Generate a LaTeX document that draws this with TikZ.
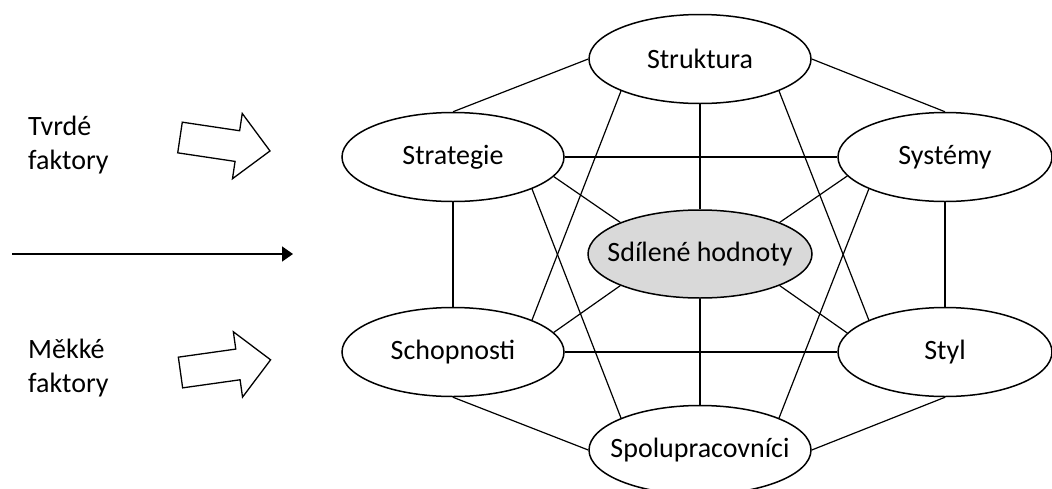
\documentclass[tikz,border=0pt]{standalone}
\usepackage{fontspec}
\setmainfont{Carlito}
\usetikzlibrary{shapes.geometric,arrows.meta}

% label of an element: zero-width box so the ellipse keeps its set size
\newcommand\elname[1]{\makebox[0pt]{#1}}

\definecolor{corefill}{HTML}{D9D9D9}
\tikzset{
  factor/.style={ellipse, draw=black, line width=1.5pt, fill=white,
    minimum width=222pt, minimum height=89pt, inner sep=0pt,
    font=\fontsize{28}{34}\selectfont},
  sidefactor/.style={factor, minimum width=214pt},
  corefactor/.style={factor, fill=corefill, minimum width=224pt, minimum height=88pt},
  link/.style={draw=black, line width=1.2pt},
  sidelabel/.style={anchor=base west, align=left, inner sep=0pt,
    font=\fontsize{28}{34}\selectfont},
  fatarrow/.pic={
    \draw[line width=1.3pt, line join=miter, fill=white]
      (0,-15.5) -- (58,-15.5) -- (58,-33) -- (91,0) -- (58,33)
      -- (58,15.5) -- (0,15.5) -- cycle;
  }
}

\begin{document}
\begin{tikzpicture}[x=1pt, y=-1pt]
  \clip (0,0) rectangle (1052,488);
  \fill[white] (0,0) rectangle (1052,488);

  % the seven elements
  \node[factor]     (struk)  at (700,59)  {\elname{Struktura}};
  \node[factor]     (strat)  at (453,157) {\elname{Strategie}};
  \node[sidefactor] (sys)    at (945,157) {\elname{Systémy}};
  \node[factor]     (schop)  at (453,352) {\elname{Schopnosti}};
  \node[sidefactor] (styl)   at (945,352) {\elname{Styl}};
  \node[factor]     (spol)   at (700,450) {\elname{Spolupracovníci}};
  \node[corefactor] (core)   at (700,254) {\elname{Sdílené hodnoty}};

  % links between the elements
  \path[link] (strat.north) -- (struk.west);
  \path[link] (struk.east) -- (sys.north);
  \path[link] (sys.south) -- (styl.north);
  \path[link] (styl.south) -- (spol.east);
  \path[link] (spol.west) -- (schop.south);
  \path[link] (schop.north) -- (strat.south);
  \path[link] (strat.east) -- (sys.west);
  \path[link] (schop.east) -- (styl.west);
  \path[link] (struk.south) -- (core.north);
  \path[link] (core.south) -- (spol.north);
  \path[link] (struk.south west) -- (schop.north east);
  \path[link] (struk.south east) -- (styl.north west);
  \path[link] (strat.south east) -- (spol.north west);
  \path[link] (sys.south west) -- (spol.north east);
  \path[link] (strat.-11) -- (core.north west);
  \path[link] (sys.191) -- (core.north east);
  \path[link] (schop.11) -- (core.south west);
  \path[link] (styl.169) -- (core.south east);

  % hard and soft factors on the left
  \node[sidelabel] (hard) at (28,169) {Tvrdé\\faktory};
  \node[sidelabel] (soft) at (28,392) {Měkké\\faktory};
  \pic[rotate=-8.5] at (180,137.5) {fatarrow};
  \pic[rotate=8] at (180.5,372.5) {fatarrow};

  \coordinate (flowstart) at (12,254);
  \coordinate (flowend) at (293,254);
  \draw[line width=1.5pt, -{Triangle[length=11pt,width=15pt]}] (flowstart) -- (flowend);
\end{tikzpicture}
\end{document}
